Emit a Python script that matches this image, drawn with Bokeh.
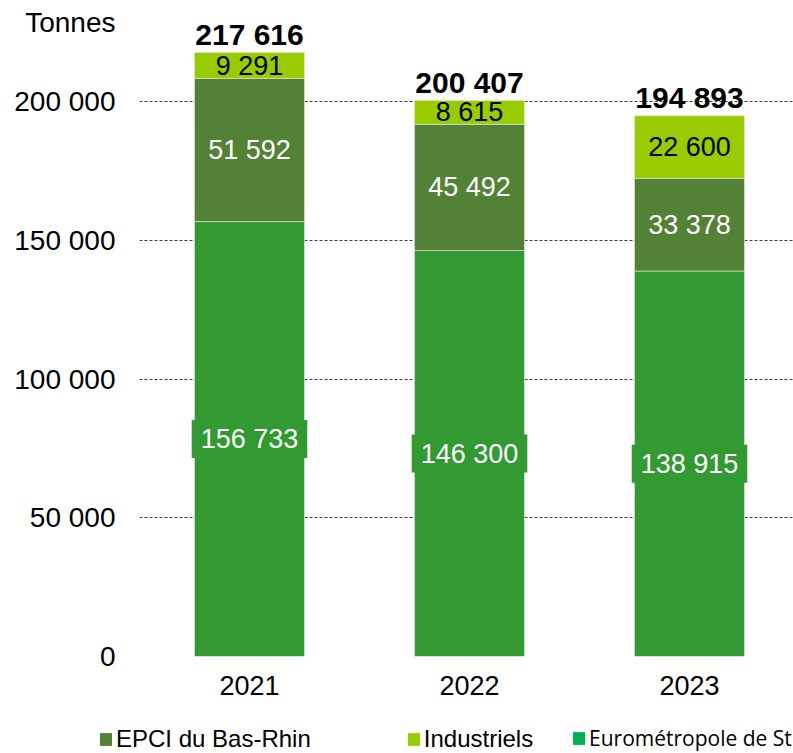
from bokeh.plotting import figure
from bokeh.layouts import column
from bokeh.models import (Range1d, FixedTicker, Legend, LegendItem,
                          ColumnDataSource)
from bokeh.embed import file_html
from bokeh.resources import INLINE
from bokeh.core.properties import value

# ---- data ----
years = ["2021", "2022", "2023"]
euro = [156733, 146300, 138915]      # Eurométropole de Strasbourg
epci = [51592, 45492, 33378]         # EPCI du Bas-Rhin
indus = [9291, 8615, 22600]          # Industriels
series_names = ["Eurométropole de Strasbourg", "EPCI du Bas-Rhin", "Industriels"]
y_ticks = [0, 50000, 100000, 150000, 200000]
y_tick_labels = ["0", "50 000", "100 000", "150 000", "200 000"]
unit_label = "Tonnes"
unit_label_pos = 228500   # where the unit caption sits on the value axis

C_EURO = "#339933"
C_EURO_LEG = "#00B050"
C_EPCI = "#538135"
C_IND = "#99CC00"
FONT = "Liberation Sans"


def fmt(v):
    return f"{v:,}".replace(",", " ")


xs = list(range(len(years)))
totals = [a + b + c for a, b, c in zip(euro, epci, indus)]

p = figure(width=793, height=708, output_backend="svg", toolbar_location=None,
           x_range=Range1d(-0.5, 2.4727), y_range=Range1d(0, 236400),
           min_border_left=139, min_border_right=0, min_border_top=0,
           min_border_bottom=52)
p.outline_line_color = None
p.background_fill_color = "white"
p.border_fill_color = "white"

src = ColumnDataSource(dict(x=xs, euro=euro, epci=epci, indus=indus))
rs = p.vbar_stack(["euro", "epci", "indus"], x="x", width=0.5, source=src,
                  fill_color=[C_EURO, C_EPCI, C_IND],
                  line_color="#e6e6e6", line_width=0.6)

# segment labels
euro_mid = [e / 2 for e in euro]
epci_mid = [e + d / 2 for e, d in zip(euro, epci)]
ind_mid = [e + d + i / 2 for e, d, i in zip(euro, epci, indus)]

p.text(x=xs, y=euro_mid, text=[fmt(v) for v in euro], text_align="center",
       text_baseline="middle", text_font=value(FONT), text_font_size="27px",
       text_color="white", background_fill_color=C_EURO,
       padding=dict(left=9, right=9, top=4, bottom=4))
p.text(x=xs, y=epci_mid, text=[fmt(v) for v in epci], text_align="center",
       text_baseline="middle", text_font=value(FONT), text_font_size="27px",
       text_color="white")
p.text(x=xs, y=ind_mid, text=[fmt(v) for v in indus], text_align="center",
       text_baseline="middle", text_font=value(FONT), text_font_size="27px",
       text_color="black")
p.text(x=xs, y=totals, text=[fmt(v) for v in totals], text_align="center",
       text_baseline="alphabetic", y_offset=-18, text_font=value(FONT),
       text_font_size="30px", text_font_style="bold", text_color="black")

# axes
overrides = {t: l for t, l in zip(y_ticks, y_tick_labels)}
overrides[unit_label_pos] = unit_label
p.yaxis.ticker = FixedTicker(ticks=y_ticks + [unit_label_pos])
p.yaxis.major_label_overrides = overrides
p.yaxis.axis_line_color = None
p.yaxis.major_tick_line_color = None
p.yaxis.minor_tick_line_color = None
p.yaxis.major_tick_out = 0
p.yaxis.major_tick_in = 0
p.yaxis.major_label_standoff = 24
p.yaxis.major_label_text_font = FONT
p.yaxis.major_label_text_font_size = "28px"
p.yaxis.major_label_text_color = "black"

p.xaxis.ticker = FixedTicker(ticks=xs)
p.xaxis.major_label_overrides = {x: y for x, y in zip(xs, years)}
p.xaxis.axis_line_color = None
p.xaxis.major_tick_line_color = None
p.xaxis.minor_tick_line_color = None
p.xaxis.major_tick_out = 0
p.xaxis.major_tick_in = 0
p.xaxis.major_label_standoff = 19
p.xaxis.major_label_text_font = FONT
p.xaxis.major_label_text_font_size = "27px"
p.xaxis.major_label_text_color = "black"

p.xgrid.visible = False
p.ygrid.ticker = FixedTicker(ticks=y_ticks)
p.ygrid.grid_line_color = "#404040"
p.ygrid.grid_line_dash = "3 2"
p.ygrid.grid_line_width = 1
p.ygrid.level = "underlay"

# ---- legend strip (separate figure so the legend is not clipped) ----
lf = figure(width=793, height=45, output_backend="svg", toolbar_location=None,
            x_range=Range1d(0, 1), y_range=Range1d(0, 1),
            x_axis_location=None, y_axis_location=None,
            min_border_left=0, min_border_right=0, min_border_top=0,
            min_border_bottom=0)
lf.frame_align = False
lf.outline_line_color = None
lf.xgrid.visible = False
lf.ygrid.visible = False
# legend handles (hidden copies of the series, only used for the swatches)
r_epci = lf.vbar(x=xs, top=epci, width=0.5, fill_color=C_EPCI,
                 line_color=None, visible=False)
r_ind = lf.vbar(x=xs, top=indus, width=0.5, fill_color=C_IND,
                line_color=None, visible=False)
r_euro = lf.vbar(x=xs, top=euro, width=0.5, fill_color=C_EURO_LEG,
                 line_color=None, visible=False)

common = dict(orientation="horizontal", label_text_color="black",
              glyph_width=15, glyph_height=16, label_standoff=3, padding=0,
              margin=0, border_line_color=None, background_fill_alpha=0,
              label_height=20, inactive_fill_alpha=0)
leg_a = Legend(items=[LegendItem(label=series_names[1], renderers=[r_epci]),
                      LegendItem(label=series_names[2], renderers=[r_ind])],
               location=(98, 0), spacing=95, label_text_font=FONT,
               label_text_font_size="24px", **common)
leg_b = Legend(items=[LegendItem(label=series_names[0], renderers=[r_euro])],
               location=(571, 1), spacing=0, label_text_font="Open Sans",
               label_text_font_size="21px", **common)
lf.add_layout(leg_a, "center")
lf.add_layout(leg_b, "center")

layout = column(p, lf, spacing=0)
open("out.html", "w").write(file_html(layout, INLINE))
